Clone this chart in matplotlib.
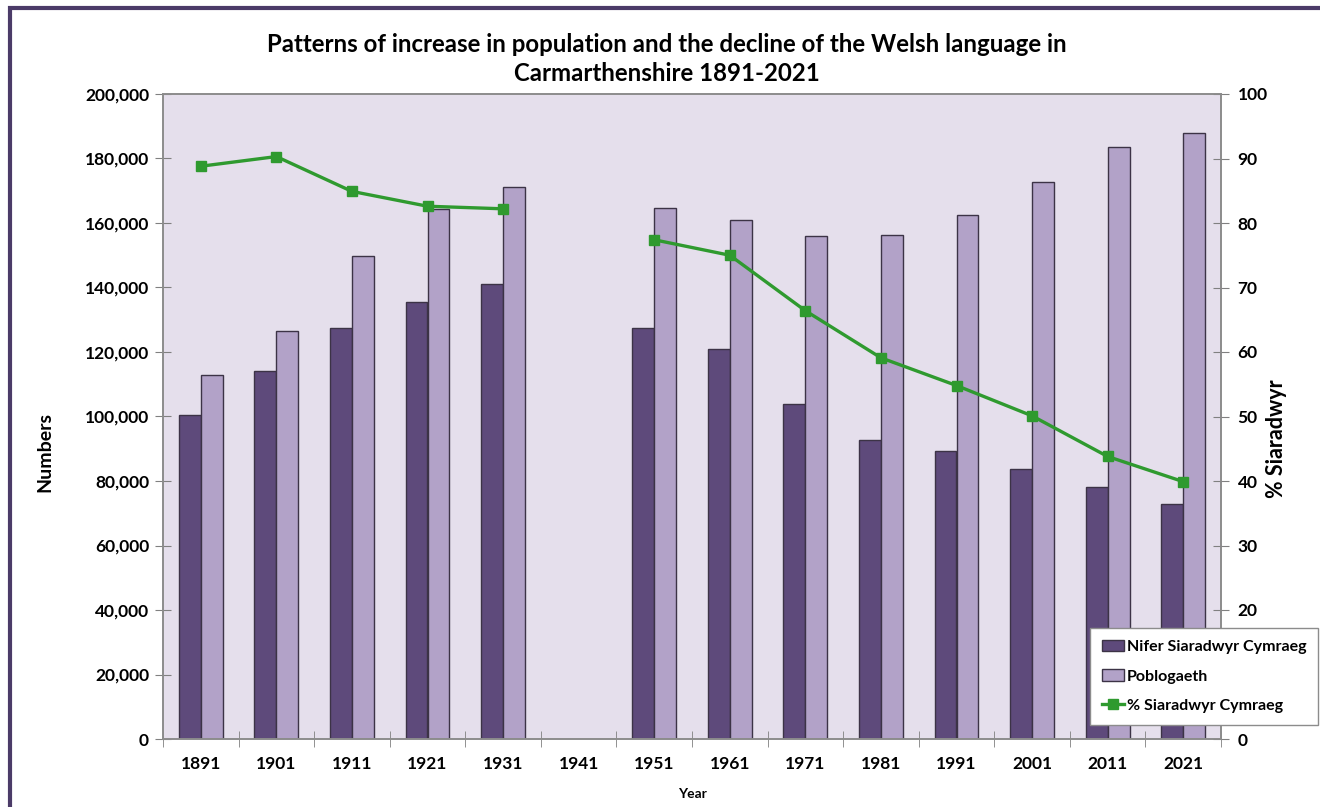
import numpy as np
import matplotlib.pyplot as plt
from matplotlib.ticker import FuncFormatter, MultipleLocator, FixedLocator
from matplotlib.patches import Rectangle

plt.rcParams['font.family'] = ['Lato', 'DejaVu Sans']
plt.rcParams['font.weight'] = 'bold'

years = ['1891', '1901', '1911', '1921', '1931', '1941', '1951',
         '1961', '1971', '1981', '1991', '2001', '2011', '2021']
speakers = [100400, 114100, 127400, 135500, 141100, np.nan, 127300,
            120900, 103900, 92700, 89300, 83800, 78100, 73000]
population = [112900, 126500, 149700, 164300, 171200, np.nan, 164500,
              160900, 156000, 156400, 162600, 172700, 183700, 187800]
pct_speakers = [88.8, 90.3, 84.9, 82.6, 82.2, np.nan, 77.4,
                75.0, 66.4, 59.1, 54.8, 50.1, 43.8, 39.9]

dark = '#5e4a7b'
light = '#b2a2c8'
green = '#2f9a2f'
edge = '#3c3346'

fig = plt.figure(figsize=(13.2, 8.07), dpi=100)
ax = fig.add_axes([163 / 1320, 1 - 739 / 807, (1221 - 163) / 1320, (739 - 94) / 807])
ax.set_facecolor('#e5dfec')

x = np.arange(len(years))
w = 0.29
b1 = ax.bar(x - w / 2, speakers, w, color=dark, edgecolor=edge, linewidth=1.0,
            label='Nifer Siaradwyr Cymraeg')
b2 = ax.bar(x + w / 2, population, w, color=light, edgecolor=edge, linewidth=1.0,
            label='Poblogaeth')

ax.set_xlim(-0.5, len(years) - 0.5)
ax.set_ylim(0, 200000)
ax.yaxis.set_major_locator(MultipleLocator(20000))
ax.yaxis.set_major_formatter(FuncFormatter(lambda v, p: '{:,.0f}'.format(v)))
ax.set_xticks(x)
ax.set_xticklabels(years)
ax.xaxis.set_minor_locator(FixedLocator(np.arange(-0.5, len(years), 1)))
ax.tick_params(axis='x', which='major', length=0, pad=12, labelsize=12.5)
ax.tick_params(axis='x', which='minor', direction='inout', length=12, color='#808080')
ax.tick_params(axis='y', direction='inout', length=12, color='#808080', labelsize=12.5, pad=4)

ax2 = ax.twinx()
l1, = ax2.plot(x, pct_speakers, color=green, linewidth=2.4, marker='s', markersize=7,
               label='% Siaradwyr Cymraeg')
ax2.set_ylim(0, 100)
ax2.yaxis.set_major_locator(MultipleLocator(10))
ax2.tick_params(axis='y', direction='inout', length=12, color='#808080', labelsize=12.5, pad=6)
ax2.set_xlim(-0.5, len(years) - 0.5)

for a in (ax, ax2):
    for s in a.spines.values():
        s.set_color('#8c8c8c')
        s.set_linewidth(1.2)

ax.set_ylabel('Numbers', fontsize=14, fontweight='bold')
ax.yaxis.set_label_coords((53 - 163) / 1058, (739 - 452) / 645)
ax2.set_ylabel('% Siaradwyr', fontsize=15.5, fontweight='bold')
ax2.yaxis.set_label_coords((1266 - 163) / 1058, (739 - 439) / 645)
ax.set_xlabel('Year', fontsize=10, fontweight='bold', labelpad=12)

fig.text(0.505, 1 - 59 / 807,
         'Patterns of increase in population and the decline of the Welsh language in\nCarmarthenshire 1891-2021',
         ha='center', va='center', fontsize=17.3, fontweight='bold', linespacing=1.3)

leg = ax2.legend(handles=[b1, b2, l1], loc='upper left',
                 bbox_to_anchor=(1090 / 1320, 1 - 628 / 807),
                 bbox_transform=fig.transFigure, fontsize=11.5, frameon=True,
                 fancybox=False, edgecolor='#8c8c8c', framealpha=1,
                 handlelength=1.35, handletextpad=0.2, labelspacing=0.95,
                 borderpad=0.75, borderaxespad=0)
leg.get_frame().set_linewidth(1.0)
leg.set_zorder(10)

fig.patches.append(Rectangle((10 / 1320, -0.05), 1.2, 1 - 8 / 807 + 0.05,
                             transform=fig.transFigure, fill=False,
                             edgecolor='#4b3b68', linewidth=3, clip_on=False))

fig.savefig('out.png', dpi=100)
